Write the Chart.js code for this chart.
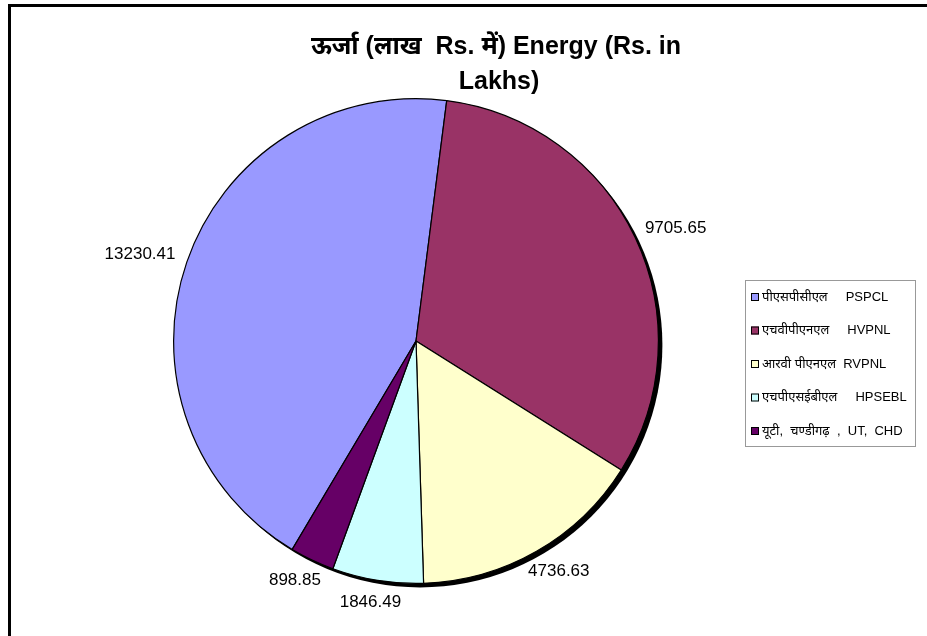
<!DOCTYPE html>
<html>
<head>
<meta charset="utf-8">
<script src="https://cdn.jsdelivr.net/npm/chart.js@4"></script>
<style>
    html, body { margin: 0; padding: 0; background: #fff; }
    #wrap { position: relative; width: 927px; height: 636px; overflow: hidden; }
    #frame { position: absolute; left: 8px; top: 4px; width: 940px; height: 660px;
             border-top: 3px solid #000; border-left: 3px solid #000; }
    canvas { position: absolute; left: 0; top: 0; }
</style>
</head>
<body>
<div id="wrap">
    <div id="frame"></div>
    <canvas id="chart" width="927" height="636"></canvas>
</div>
<script>
const titleLines = ['ऊर्जा (लाख  Rs. में) Energy (Rs. in', 'Lakhs)'];
const categories = [
    'पीएसपीसीएल     PSPCL',
    'एचवीपीएनएल     HVPNL',
    'आरवी पीएनएल  RVPNL',
    'एचपीएसईबीएल     HPSEBL',
    'यूटी,  चण्डीगढ़  ,  UT,  CHD'
];
const energyValues = [13230.41, 9705.65, 4736.63, 1846.49, 898.85];
const sliceColours = ['#9999FF', '#993366', '#FFFFCC', '#CCFFFF', '#660066'];

const labelFont = '17px "Liberation Sans", Arial, sans-serif';
const legendFont = '13px "Liberation Sans", Arial, "Noto Sans", sans-serif';

// title, shadow, value labels and the boxed legend, drawn Excel style
const excelBits = {
    id: 'excelBits',
    beforeDatasetsDraw(chart) {
        let arc = chart.getDatasetMeta(0).data[0];
        let ctx = chart.ctx;
        ctx.save();
        ctx.fillStyle = '#000';
        ctx.beginPath();
        ctx.arc(arc.x + 4, arc.y + 4, arc.outerRadius, 0, Math.PI * 2);
        ctx.fill();
        ctx.restore();
    },
    afterDraw(chart) {
        let ctx = chart.ctx;
        let meta = chart.getDatasetMeta(0);
        ctx.save();

        // title
        ctx.fillStyle = '#000';
        ctx.font = 'bold 25px "Liberation Sans", Arial, "Noto Sans", sans-serif';
        ctx.textAlign = 'center';
        ctx.textBaseline = 'middle';
        ctx.fillText(titleLines[0], 496, 47);
        ctx.fillText(titleLines[1], 499, 82);

        // value labels outside the slices
        ctx.font = labelFont;
        for (let i = 0; i < meta.data.length; i++) {
            let a = meta.data[i];
            let mid = (a.startAngle + a.endAngle) / 2;
            let dx = Math.cos(mid);
            let dy = Math.sin(mid);
            let txt = energyValues[i].toFixed(2);
            let w = ctx.measureText(txt).width;
            let px = a.x + (a.outerRadius + 14) * dx + dx * w / 2;
            let py = a.y + (a.outerRadius + 14) * dy + dy * 8.5;
            ctx.fillText(txt, px, py);
        }

        // legend
        let lx = 745, ly = 280, lw = 170, lh = 166;
        ctx.strokeStyle = '#999';
        ctx.lineWidth = 1;
        ctx.strokeRect(lx + 0.5, ly + 0.5, lw, lh);
        ctx.font = legendFont;
        ctx.textAlign = 'left';
        for (let i = 0; i < categories.length; i++) {
            let cy = 297 + i * 33.5;
            ctx.fillStyle = sliceColours[i];
            ctx.fillRect(751, cy - 4, 8, 8);
            ctx.strokeStyle = '#000';
            ctx.strokeRect(751.5, cy - 3.5, 7, 7);
            ctx.fillStyle = '#000';
            ctx.fillText(categories[i], 762, cy);
        }
        ctx.restore();
    }
};

new Chart(document.getElementById('chart'), {
    type: 'pie',
    data: {
        labels: categories,
        datasets: [{
            data: energyValues,
            backgroundColor: sliceColours,
            borderColor: '#000',
            borderWidth: 1.2
        }]
    },
    options: {
        responsive: false,
        animation: false,
        rotation: -149.3,
        layout: {
            padding: { top: 98, bottom: 52, left: 173, right: 268 }
        },
        plugins: {
            legend: { display: false },
            tooltip: { enabled: false }
        }
    },
    plugins: [excelBits]
});
</script>
</body>
</html>
